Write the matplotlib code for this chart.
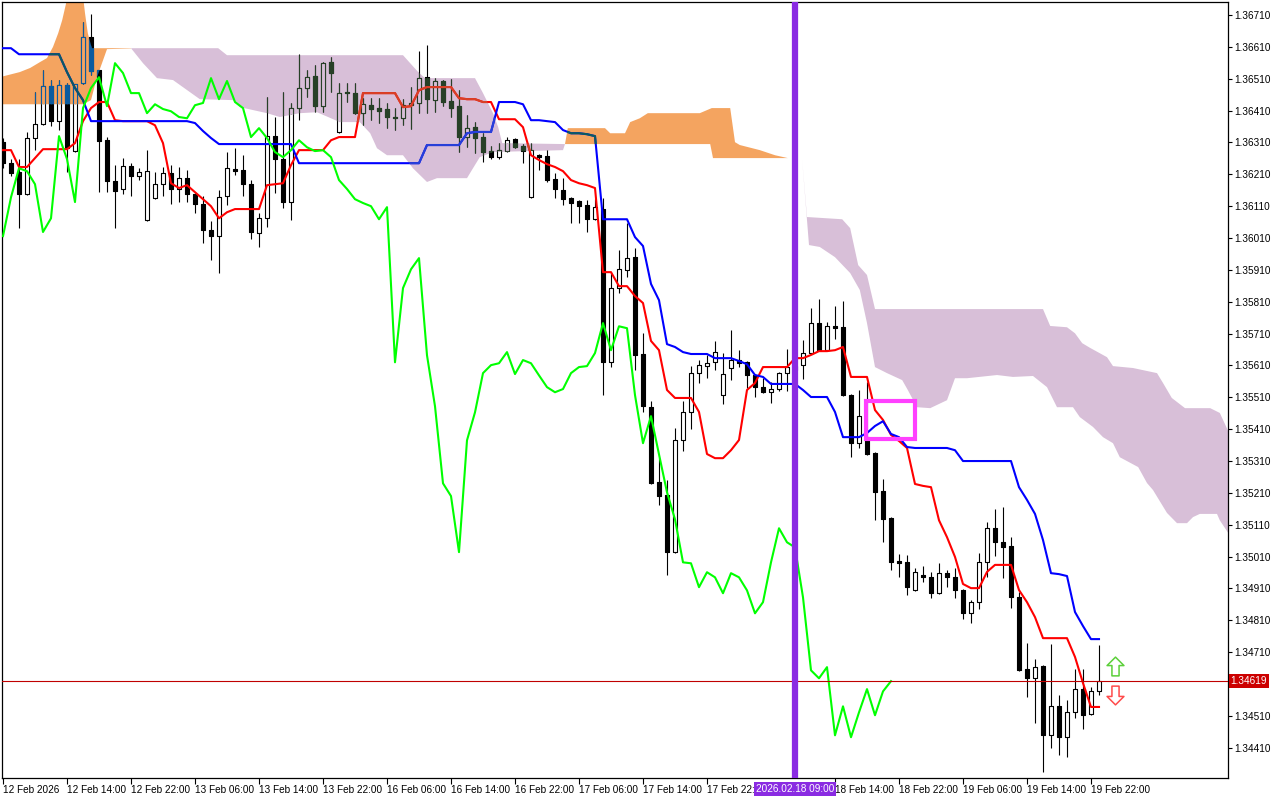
import numpy as np
import matplotlib
matplotlib.use('Agg')
import matplotlib.pyplot as plt
from matplotlib.collections import LineCollection, PolyCollection
from matplotlib.patches import PathPatch, Rectangle
from matplotlib.path import Path
from matplotlib.transforms import blended_transform_factory

plt.rcParams['font.family'] = ['Liberation Sans', 'DejaVu Sans']

# H1 bars, bar 0 = 12 Feb 06:00
opens = [1.36311, 1.36245, 1.36217, 1.36148, 1.36324, 1.36368, 1.36487, 1.36377, 1.36490, 1.36283,
         1.36496, 1.36641, 1.36537, 1.36317, 1.36189, 1.36164, 1.36236, 1.36204, 1.36066, 1.36135,
         1.36179, 1.36214, 1.36164, 1.36198, 1.36148, 1.36116, 1.36035, 1.36016, 1.36142, 1.36226,
         1.36223, 1.36179, 1.36025, 1.36072, 1.36330, 1.36258, 1.36123, 1.36418, 1.36481, 1.36518,
         1.36424, 1.36562, 1.36343, 1.36468, 1.36465, 1.36402, 1.36427, 1.36418, 1.36415, 1.36390,
         1.36386, 1.36427, 1.36434, 1.36515, 1.36443, 1.36503, 1.36440, 1.36424, 1.36327, 1.36358,
         1.36327, 1.36283, 1.36264, 1.36283, 1.36321, 1.36299, 1.36138, 1.36270, 1.36267, 1.36195,
         1.36160, 1.36135, 1.36126, 1.36113, 1.36069, 1.36101, 1.35620, 1.35853, 1.35909, 1.35950,
         1.35645, 1.35479, 1.35244, 1.35203, 1.35024, 1.35375, 1.35463, 1.35586, 1.35608, 1.35620,
         1.35517, 1.35601, 1.35627, 1.35620, 1.35579, 1.35542, 1.35526, 1.35536, 1.35586, 1.35595,
         1.35611, 1.35649, 1.35743, 1.35658, 1.35733, 1.35730, 1.35517, 1.35366, 1.35385, 1.35335,
         1.35215, 1.35130, 1.34995, 1.34992, 1.34904, 1.34951, 1.34945, 1.34895, 1.34958, 1.34945,
         1.34904, 1.34832, 1.34867, 1.34992, 1.35099, 1.35055, 1.35043, 1.34882, 1.34656, 1.34628,
         1.34666, 1.34449, 1.34540, 1.34443, 1.34521, 1.34594, 1.34515, 1.34587]
highs = [1.36324, 1.36258, 1.36258, 1.36343, 1.36468, 1.36537, 1.36506, 1.36506, 1.36496, 1.36493,
         1.36688, 1.36713, 1.36537, 1.36327, 1.36239, 1.36261, 1.36245, 1.36229, 1.36286, 1.36217,
         1.36233, 1.36239, 1.36233, 1.36223, 1.36151, 1.36142, 1.36063, 1.36160, 1.36280, 1.36292,
         1.36270, 1.36192, 1.36088, 1.36452, 1.36390, 1.36468, 1.36434, 1.36587, 1.36537, 1.36553,
         1.36562, 1.36578, 1.36496, 1.36496, 1.36496, 1.36449, 1.36449, 1.36449, 1.36434, 1.36418,
         1.36446, 1.36484, 1.36597, 1.36616, 1.36512, 1.36506, 1.36509, 1.36474, 1.36396, 1.36374,
         1.36339, 1.36299, 1.36308, 1.36327, 1.36324, 1.36305, 1.36308, 1.36273, 1.36286, 1.36214,
         1.36198, 1.36138, 1.36129, 1.36129, 1.36132, 1.36135, 1.35900, 1.35972, 1.36057, 1.35978,
         1.35711, 1.35498, 1.35319, 1.35250, 1.35413, 1.35498, 1.35608, 1.35627, 1.35642, 1.35686,
         1.35649, 1.35721, 1.35658, 1.35623, 1.35582, 1.35570, 1.35558, 1.35589, 1.35661, 1.35627,
         1.35689, 1.35790, 1.35818, 1.35746, 1.35796, 1.35812, 1.35520, 1.35532, 1.35558, 1.35338,
         1.35253, 1.35133, 1.35017, 1.35014, 1.34973, 1.34980, 1.34961, 1.34989, 1.34967, 1.34973,
         1.34907, 1.34873, 1.35021, 1.35118, 1.35159, 1.35165, 1.35071, 1.34898, 1.34738, 1.34688,
         1.34669, 1.34735, 1.34575, 1.34559, 1.34656, 1.34656, 1.34600, 1.34732]
lows = [1.36229, 1.36204, 1.36041, 1.36145, 1.36286, 1.36364, 1.36361, 1.36349, 1.36217, 1.36280,
        1.36493, 1.36521, 1.36154, 1.36154, 1.36041, 1.36148, 1.36142, 1.36192, 1.36063, 1.36132,
        1.36142, 1.36116, 1.36123, 1.36123, 1.36088, 1.35994, 1.35941, 1.35900, 1.36113, 1.36207,
        1.36142, 1.36007, 1.35981, 1.36044, 1.36151, 1.36104, 1.36066, 1.36380, 1.36452, 1.36405,
        1.36405, 1.36468, 1.36340, 1.36437, 1.36400, 1.36364, 1.36380, 1.36371, 1.36355, 1.36349,
        1.36364, 1.36352, 1.36402, 1.36402, 1.36405, 1.36424, 1.36390, 1.36280, 1.36295, 1.36277,
        1.36248, 1.36258, 1.36258, 1.36280, 1.36292, 1.36245, 1.36135, 1.36223, 1.36186, 1.36135,
        1.36113, 1.36057, 1.36057, 1.36029, 1.36066, 1.35517, 1.35605, 1.35837, 1.35887, 1.35595,
        1.35463, 1.35238, 1.35171, 1.34951, 1.35021, 1.35341, 1.35410, 1.35554, 1.35570, 1.35595,
        1.35488, 1.35564, 1.35605, 1.35539, 1.35510, 1.35523, 1.35492, 1.35529, 1.35529, 1.35583,
        1.35567, 1.35646, 1.35655, 1.35655, 1.35693, 1.35514, 1.35322, 1.35350, 1.35328, 1.35124,
        1.35055, 1.34967, 1.34945, 1.34889, 1.34901, 1.34930, 1.34879, 1.34892, 1.34914, 1.34879,
        1.34813, 1.34801, 1.34845, 1.34945, 1.35011, 1.34942, 1.34848, 1.34650, 1.34568, 1.34487,
        1.34333, 1.34408, 1.34386, 1.34380, 1.34502, 1.34468, 1.34512, 1.34575]
closes = [1.36245, 1.36214, 1.36148, 1.36324, 1.36368, 1.36487, 1.36377, 1.36490, 1.36292, 1.36493,
          1.36641, 1.36534, 1.36314, 1.36189, 1.36157, 1.36236, 1.36204, 1.36217, 1.36220, 1.36179,
          1.36214, 1.36164, 1.36198, 1.36148, 1.36116, 1.36035, 1.36016, 1.36138, 1.36229, 1.36220,
          1.36179, 1.36029, 1.36072, 1.36330, 1.36258, 1.36123, 1.36418, 1.36481, 1.36515, 1.36424,
          1.36559, 1.36528, 1.36465, 1.36465, 1.36402, 1.36430, 1.36415, 1.36408, 1.36390, 1.36386,
          1.36427, 1.36434, 1.36512, 1.36446, 1.36503, 1.36437, 1.36418, 1.36327, 1.36355, 1.36324,
          1.36280, 1.36264, 1.36286, 1.36317, 1.36295, 1.36283, 1.36286, 1.36264, 1.36192, 1.36164,
          1.36132, 1.36120, 1.36110, 1.36069, 1.36107, 1.35620, 1.35853, 1.35912, 1.35947, 1.35642,
          1.35482, 1.35240, 1.35200, 1.35024, 1.35375, 1.35463, 1.35586, 1.35611, 1.35617, 1.35652,
          1.35583, 1.35627, 1.35617, 1.35579, 1.35542, 1.35526, 1.35536, 1.35586, 1.35605, 1.35608,
          1.35649, 1.35743, 1.35658, 1.35733, 1.35727, 1.35517, 1.35366, 1.35451, 1.35331, 1.35212,
          1.35127, 1.34992, 1.34989, 1.34914, 1.34961, 1.34945, 1.34895, 1.34958, 1.34945, 1.34904,
          1.34832, 1.34867, 1.34992, 1.35099, 1.35055, 1.35039, 1.34882, 1.34653, 1.34628, 1.34663,
          1.34449, 1.34540, 1.34443, 1.34521, 1.34594, 1.34512, 1.34587, 1.34619]

tenkan = [1.36286, 1.36286, 1.36233, 1.36233, 1.36261, 1.36289, 1.36289, 1.36289, 1.36289, 1.36308,
          1.36377, 1.36418, 1.36437, 1.36437, 1.36380, 1.36377, 1.36377, 1.36377, 1.36377, 1.36364,
          1.36308, 1.36182, 1.36167, 1.36176, 1.36154, 1.36132, 1.36110, 1.36072, 1.36091, 1.36101,
          1.36101, 1.36101, 1.36101, 1.36176, 1.36179, 1.36182, 1.36239, 1.36286, 1.36286, 1.36286,
          1.36286, 1.36317, 1.36327, 1.36327, 1.36327, 1.36465, 1.36465, 1.36465, 1.36465, 1.36465,
          1.36421, 1.36424, 1.36474, 1.36484, 1.36484, 1.36484, 1.36484, 1.36449, 1.36446, 1.36446,
          1.36437, 1.36437, 1.36383, 1.36383, 1.36383, 1.36358, 1.36270, 1.36255, 1.36242, 1.36233,
          1.36220, 1.36192, 1.36182, 1.36176, 1.36167, 1.35903, 1.35903, 1.35859, 1.35859, 1.35828,
          1.35806, 1.35687, 1.35658, 1.35533, 1.35508, 1.35508, 1.35508, 1.35464, 1.35332, 1.35319,
          1.35319, 1.35344, 1.35376, 1.35533, 1.35555, 1.35605, 1.35605, 1.35605, 1.35605, 1.35633,
          1.35633, 1.35643, 1.35655, 1.35655, 1.35658, 1.35668, 1.35574, 1.35574, 1.35574, 1.35470,
          1.35439, 1.35392, 1.35373, 1.35351, 1.35238, 1.35232, 1.35228, 1.35124, 1.35071, 1.35009,
          1.34924, 1.34911, 1.34911, 1.34962, 1.34984, 1.34984, 1.34984, 1.34905, 1.34867, 1.34820,
          1.34754, 1.34754, 1.34754, 1.34754, 1.34695, 1.34613, 1.34538, 1.34538]

kijun = [1.36606, 1.36606, 1.36587, 1.36587, 1.36587, 1.36587, 1.36587, 1.36587, 1.36531, 1.36481,
         1.36443, 1.36377, 1.36377, 1.36377, 1.36377, 1.36377, 1.36377, 1.36377, 1.36377, 1.36377,
         1.36377, 1.36377, 1.36377, 1.36377, 1.36371, 1.36346, 1.36324, 1.36305, 1.36305, 1.36305,
         1.36305, 1.36305, 1.36305, 1.36305, 1.36305, 1.36305, 1.36305, 1.36245, 1.36245, 1.36245,
         1.36245, 1.36245, 1.36245, 1.36245, 1.36245, 1.36245, 1.36245, 1.36245, 1.36245, 1.36245,
         1.36245, 1.36245, 1.36245, 1.36302, 1.36302, 1.36302, 1.36302, 1.36302, 1.36339, 1.36343,
         1.36343, 1.36343, 1.36437, 1.36437, 1.36437, 1.36430, 1.36380, 1.36380, 1.36377, 1.36374,
         1.36349, 1.36339, 1.36339, 1.36336, 1.36330, 1.36069, 1.36069, 1.36069, 1.36069, 1.36013,
         1.35985, 1.35866, 1.35815, 1.35677, 1.35668, 1.35652, 1.35646, 1.35646, 1.35646, 1.35633,
         1.35633, 1.35633, 1.35624, 1.35614, 1.35580, 1.35574, 1.35552, 1.35552, 1.35552, 1.35552,
         1.35533, 1.35511, 1.35511, 1.35511, 1.35464, 1.35385, 1.35385, 1.35385, 1.35398, 1.35420,
         1.35435, 1.35395, 1.35385, 1.35354, 1.35351, 1.35351, 1.35351, 1.35351, 1.35351, 1.35344,
         1.35310, 1.35310, 1.35310, 1.35310, 1.35310, 1.35310, 1.35310, 1.35228, 1.35188, 1.35144,
         1.35062, 1.34958, 1.34955, 1.34949, 1.34836, 1.34792, 1.34751, 1.34751]

# lagging span, starts at bar 0
chikou = [1.36016, 1.36138, 1.36229, 1.36220, 1.36179, 1.36029, 1.36072, 1.36330, 1.36258, 1.36123,
          1.36418, 1.36481, 1.36515, 1.36424, 1.36559, 1.36528, 1.36465, 1.36465, 1.36402, 1.36430,
          1.36415, 1.36408, 1.36390, 1.36386, 1.36427, 1.36434, 1.36512, 1.36446, 1.36503, 1.36437,
          1.36418, 1.36327, 1.36355, 1.36324, 1.36280, 1.36264, 1.36286, 1.36317, 1.36295, 1.36283,
          1.36286, 1.36264, 1.36192, 1.36164, 1.36132, 1.36120, 1.36110, 1.36069, 1.36107, 1.35620,
          1.35853, 1.35912, 1.35947, 1.35642, 1.35482, 1.35240, 1.35200, 1.35024, 1.35375, 1.35463,
          1.35586, 1.35611, 1.35617, 1.35652, 1.35583, 1.35627, 1.35617, 1.35579, 1.35542, 1.35526,
          1.35536, 1.35586, 1.35605, 1.35608, 1.35649, 1.35743, 1.35658, 1.35733, 1.35727, 1.35517,
          1.35366, 1.35451, 1.35331, 1.35212, 1.35127, 1.34992, 1.34989, 1.34914, 1.34961, 1.34945,
          1.34895, 1.34958, 1.34945, 1.34904, 1.34832, 1.34867, 1.34992, 1.35099, 1.35055, 1.35039,
          1.34882, 1.34653, 1.34628, 1.34663, 1.34449, 1.34540, 1.34443, 1.34521, 1.34594, 1.34512,
          1.34587, 1.34619]

# cloud outlines (bar, price): upper edge and lower edge of each coloured patch
sandy_1_top = [(-0.4, 1.36515), (2.1, 1.36531), (3.4, 1.36544), (4.6, 1.36562), (5.5, 1.36575),
               (6.25, 1.36610), (6.9, 1.36653), (7.4, 1.36694), (7.75, 1.36732), (8.1, 1.36770),
               (10.0, 1.36770), (10.25, 1.36716), (10.6, 1.36653), (11.1, 1.36606), (16.0, 1.36606)]
sandy_1_bot = [(-0.4, 1.36430), (10.0, 1.36430), (11.0, 1.36443), (11.75, 1.36515), (13.0, 1.36603),
               (16.0, 1.36605)]
thistle_1_top = [(16.0, 1.36606), (26.9, 1.36606), (28.0, 1.36584), (50.0, 1.36584), (51.9, 1.36531),
                 (52.75, 1.36512), (59.0, 1.36512), (60.0, 1.36465), (61.25, 1.36402), (61.9, 1.36358),
                 (62.4, 1.36308), (70.25, 1.36305)]
thistle_1_bot = [(16.0, 1.36606), (17.5, 1.36559), (19.25, 1.36512), (21.25, 1.36506), (24.6, 1.36446),
                 (28.75, 1.36443), (29.6, 1.36421), (33.0, 1.36402), (34.6, 1.36390), (37.1, 1.36402),
                 (39.25, 1.36405), (42.1, 1.36374), (44.6, 1.36374), (45.9, 1.36339), (46.75, 1.36292),
                 (48.0, 1.36270), (50.0, 1.36270), (51.25, 1.36229), (53.0, 1.36186), (54.25, 1.36198),
                 (58.0, 1.36198), (58.6, 1.36223), (59.6, 1.36264), (61.25, 1.36280), (70.0, 1.36286),
                 (70.25, 1.36305)]
sandy_2_top = [(70.25, 1.36305), (70.6, 1.36355), (75.25, 1.36355), (75.9, 1.36339), (77.75, 1.36339),
               (78.4, 1.36374), (79.6, 1.36386), (80.6, 1.36402), (87.1, 1.36402), (88.6, 1.36418),
               (90.9, 1.36418), (91.5, 1.36311), (92.1, 1.36302), (94.6, 1.36286), (96.5, 1.36270),
               (98.1, 1.36261)]
sandy_2_bot = [(70.25, 1.36305), (88.4, 1.36305), (88.75, 1.36261), (98.1, 1.36261)]
thistle_2_top = [(98.1, 1.36261), (99.9, 1.36255), (100.5, 1.36076), (104.9, 1.36069), (105.9, 1.36041),
                 (106.9, 1.35925), (108.0, 1.35894), (109.0, 1.35787), (130.0, 1.35787), (130.9, 1.35734),
                 (133.0, 1.35730), (134.0, 1.35711), (134.9, 1.35680), (135.9, 1.35665), (138.0, 1.35636),
                 (138.75, 1.35608), (141.25, 1.35602), (144.25, 1.35586), (145.0, 1.35555), (146.1, 1.35508),
                 (147.75, 1.35476), (150.9, 1.35476), (152.1, 1.35461), (153.5, 1.35385)]
thistle_2_bot = [(98.1, 1.36261), (99.9, 1.36255), (100.75, 1.35988), (102.1, 1.35982), (104.0, 1.35950),
                 (105.9, 1.35900), (107.1, 1.35847), (108.0, 1.35743), (109.0, 1.35605), (110.5, 1.35586),
                 (112.4, 1.35564), (113.1, 1.35533), (114.25, 1.35479), (115.9, 1.35476), (118.0, 1.35501),
                 (119.0, 1.35570), (120.5, 1.35570), (124.25, 1.35580), (126.25, 1.35574), (128.75, 1.35577),
                 (130.5, 1.35542), (131.75, 1.35479), (133.75, 1.35479), (134.6, 1.35448), (136.25, 1.35417),
                 (137.5, 1.35385), (138.75, 1.35366), (139.6, 1.35322), (141.9, 1.35291), (143.0, 1.35241),
                 (143.75, 1.35219), (145.5, 1.35147), (146.75, 1.35115), (148.0, 1.35115), (148.75, 1.35134),
                 (149.6, 1.35144), (151.75, 1.35144), (152.1, 1.35124), (153.5, 1.35071)]

x_labels = ['12 Feb 2026', '12 Feb 14:00', '12 Feb 22:00', '13 Feb 06:00', '13 Feb 14:00',
            '13 Feb 22:00', '16 Feb 06:00', '16 Feb 14:00', '16 Feb 22:00', '17 Feb 06:00',
            '17 Feb 14:00', '17 Feb 22:00', '18 Feb 14:00', '18 Feb 22:00',
            '19 Feb 06:00', '19 Feb 14:00', '19 Feb 22:00']
x_label_bars = [0, 8, 16, 24, 32, 40, 48, 56, 64, 72, 80, 88, 104, 112, 120, 128, 136]

event_bar = 99
event_label = '2026.02.18 09:00'
last_price = 1.34619
box_bars = (107.9, 114.0)
box_prices = (1.35379, 1.35498)
signal_bar = 139
signal_up = 1.34666
signal_down = 1.34575

THISTLE = '#D8BFD8'
SANDY = '#F4A460'

fig = plt.figure(figsize=(12.8, 8), dpi=100)
ax = fig.add_axes([2 / 1280, 22 / 800, 1226 / 1280, 776 / 800])
ax.set_xlim(-0.125, 153.125)
ax.set_ylim(1.34315, 1.36751)


def outline(top, bot):
    return list(top) + list(bot)[::-1]


def clip_for(regions):
    paths = []
    for top, bot in regions:
        pts = outline(top, bot)
        verts = pts + [pts[0]]
        codes = [Path.MOVETO] + [Path.LINETO] * (len(pts) - 1) + [Path.CLOSEPOLY]
        paths.append(Path(verts, codes))
    return PathPatch(Path.make_compound_path(*paths), transform=ax.transData, fc='none', ec='none')


thistle_regions = [(thistle_1_top, thistle_1_bot), (thistle_2_top, thistle_2_bot)]
sandy_regions = [(sandy_1_top, sandy_1_bot), (sandy_2_top, sandy_2_bot)]

for regions, col in ((thistle_regions, THISTLE), (sandy_regions, SANDY)):
    for top, bot in regions:
        xs, ys = zip(*outline(top, bot))
        ax.fill(xs, ys, color=col, lw=0, zorder=1)


def draw_candles(dark, light, edge, z, clip=None):
    idx = range(len(closes))
    wicks = LineCollection([[(i, lows[i]), (i, highs[i])] for i in idx],
                           colors=edge, linewidths=0.8, zorder=z)
    boxes, faces = [], []
    for i in idx:
        lo, hi = min(opens[i], closes[i]), max(opens[i], closes[i])
        boxes.append([(i - 0.28, lo), (i + 0.28, lo), (i + 0.28, hi), (i - 0.28, hi)])
        faces.append(dark if closes[i] < opens[i] else light)
    bodies = PolyCollection(boxes, facecolors=faces, edgecolors=edge, linewidths=0.8, zorder=z)
    for art in (wicks, bodies):
        if clip is not None:
            art.set_clip_path(clip)
        ax.add_collection(art)


def draw_lines(red, blue, z, clip=None):
    bars = np.arange(len(tenkan))
    for vals, col in ((tenkan, red), (kijun, blue)):
        ln, = ax.plot(bars, vals, color=col, lw=1.5, zorder=z)
        if clip is not None:
            ln.set_clip_path(clip)


# MT5 paints the cloud with XOR, so candles and lines under it change colour
draw_candles('black', 'white', 'black', 2)
draw_candles('#274027', THISTLE, '#274027', 2.5, clip_for(thistle_regions))
draw_candles('#0B5B9F', SANDY, '#0B5B9F', 2.5, clip_for(sandy_regions))
draw_lines('#FF0000', '#0000FF', 3)
draw_lines('#D84027', '#2740D8', 3.5, clip_for(thistle_regions))
draw_lines('#F45B9F', '#0B5B60', 3.5, clip_for(sandy_regions))

ax.plot(np.arange(len(chikou)), chikou, color='#00FF00', lw=1.5, zorder=4)

ax.axhline(last_price, color='#C00000', lw=0.8, zorder=4.5)
ax.axvline(event_bar, color='#8A2BE2', lw=4.5, zorder=6)

ax.add_patch(Rectangle((box_bars[0], box_prices[0]), box_bars[1] - box_bars[0],
                       box_prices[1] - box_prices[0], fill=False, ec='#FF40FF', lw=3, zorder=6))

# hollow signal arrows
up_arrow = Path([(0, 1), (0.9, 0.1), (0.38, 0.1), (0.38, -1), (-0.38, -1), (-0.38, 0.1),
                 (-0.9, 0.1), (0, 1)], closed=True)
down_arrow = Path([(0, -1), (0.9, -0.1), (0.38, -0.1), (0.38, 1), (-0.38, 1), (-0.38, -0.1),
                   (-0.9, -0.1), (0, -1)], closed=True)
ax.plot(signal_bar, signal_up, marker=up_arrow, markersize=13.5, mfc='white', mec='#5CCF3A',
        mew=1.1, ls='none', zorder=7)
ax.plot(signal_bar, signal_down, marker=down_arrow, markersize=13.5, mfc='white', mec='#FF4B4B',
        mew=1.1, ls='none', zorder=7)

# axes styling
for sp in ax.spines.values():
    sp.set_color('black')
    sp.set_linewidth(0.9)

yt = np.round(np.arange(1.34410, 1.36711, 0.001), 5)
ax.yaxis.tick_right()
ax.set_yticks(yt)
# the live price tag hides the tick label next to it
ax.set_yticklabels(['' if abs(v - last_price) < 0.0003 else f'{v:.5f}' for v in yt])
ax.tick_params(axis='y', direction='out', length=3, width=0.8, pad=1.5, labelsize=7.2,
               right=True, left=False)

ax.set_xticks(x_label_bars)
ax.set_xticklabels(x_labels)
ax.tick_params(axis='x', direction='out', length=4, width=0.8, pad=1, labelsize=7.2)
for lbl in ax.get_xticklabels():
    lbl.set_ha('left')

xb = blended_transform_factory(ax.transData, ax.transAxes)
ax.text(event_bar, -0.0145, event_label, transform=xb, ha='center', va='center', fontsize=7.2,
        color='white', clip_on=False, zorder=10,
        bbox=dict(boxstyle='square,pad=0.2', fc='#8A2BE2', ec='none'))

yb = blended_transform_factory(ax.transAxes, ax.transData)
ax.text(1.0022, last_price, f'{last_price:.5f}', transform=yb, ha='left', va='center', fontsize=7.2,
        color='white', clip_on=False, zorder=10,
        bbox=dict(boxstyle='square,pad=0.2', fc='#CC0000', ec='none'))

fig.savefig('out.png', dpi=100, facecolor='white')
